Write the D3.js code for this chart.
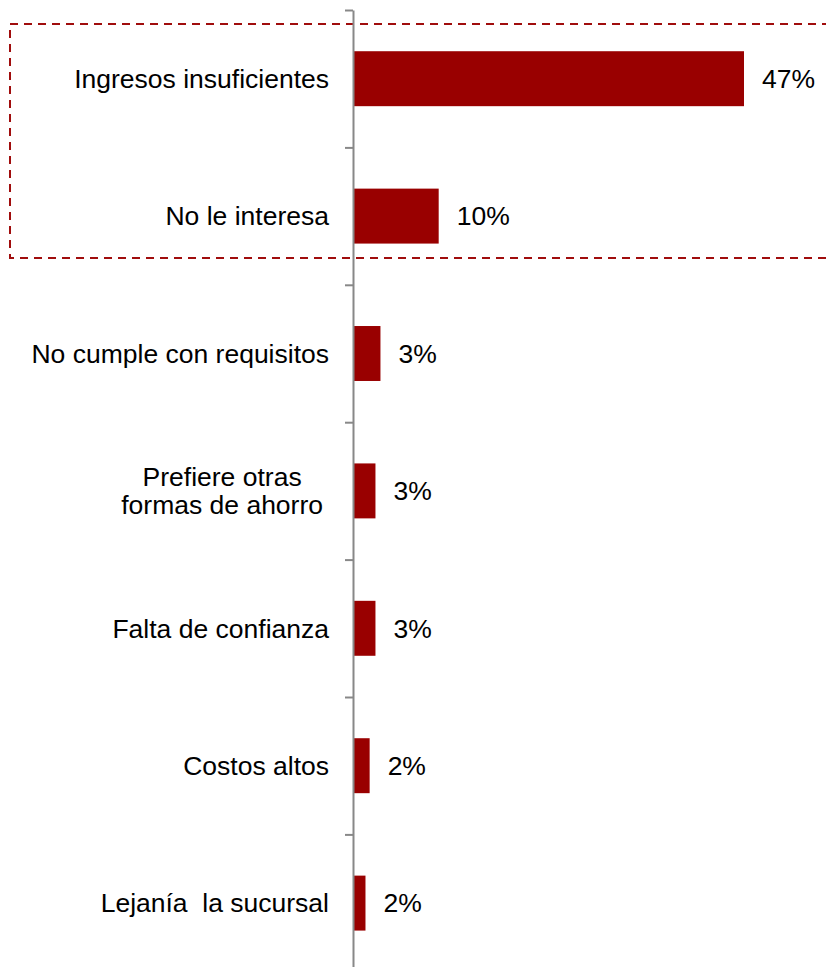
<!DOCTYPE html>
<html>
<head>
<meta charset="utf-8">
<script src="https://cdn.jsdelivr.net/npm/d3@7"></script>
<style>
  html, body { margin: 0; padding: 0; background: #ffffff; }
  svg text { font-family: "Liberation Sans", Arial, sans-serif; fill: #000; white-space: pre; }
</style>
</head>
<body>
<svg id="chart" width="826" height="967"></svg>
<script>
// Reasons for not having a savings account (% of respondents)
const categories = [
  ["Ingresos insuficientes"],
  ["No le interesa"],
  ["No cumple con requisitos"],
  ["Prefiere otras", "formas de ahorro"],
  ["Falta de confianza"],
  ["Costos altos"],
  ["Lejanía  la sucursal"]
];
const values = [47, 10.3, 3.3, 2.7, 2.7, 2.0, 1.5];

const svg = d3.select("#chart");
const fontSize = 26.5;
const barColor = "#990000";

const axisX = 353;
const plotTop = 10, step = 137.4;
const n = categories.length;

const y = d3.scaleBand()
  .domain(d3.range(n))
  .range([plotTop, plotTop + n * step])
  .paddingInner(0.6)
  .paddingOuter(0.3);

const x = d3.scaleLinear().domain([0, 47]).range([axisX, 744]);

// highlight frame around the leading reasons
const frameTop = 24, frameBottom = 258;
svg.append("rect")
  .attr("x", 10)
  .attr("y", frameTop)
  .attr("width", 830)
  .attr("height", frameBottom - frameTop)
  .attr("fill", "none")
  .attr("stroke", "#a00d0d")
  .attr("stroke-width", 2)
  .attr("stroke-dasharray", "8,6");

// bars
svg.append("g").selectAll("rect")
  .data(values)
  .join("rect")
  .attr("x", x(0))
  .attr("y", (d, i) => y(i))
  .attr("width", d => x(d) - x(0))
  .attr("height", y.bandwidth())
  .attr("fill", barColor);

// value labels
svg.append("g").selectAll("text")
  .data(values)
  .join("text")
  .attr("x", d => x(d) + 18)
  .attr("y", (d, i) => y(i) + y.bandwidth() / 2)
  .attr("dy", "0.35em")
  .attr("font-size", fontSize)
  .text(d => d3.format(".0f")(d) + "%");

// category axis: line with ticks at band boundaries
const boundary = d3.scaleLinear().domain([0, n]).range([plotTop, plotTop + n * step]);
const axisG = svg.append("g")
  .attr("transform", `translate(${axisX},0)`)
  .call(d3.axisLeft(boundary).tickValues(d3.range(n + 1)).tickSize(8).tickSizeOuter(0).tickFormat(""));
axisG.select(".domain").attr("stroke", "#888").attr("stroke-width", 2);
axisG.selectAll(".tick line").attr("stroke", "#888").attr("stroke-width", 2);

// category labels (right aligned block, wrapped lines centred)
const labelRight = 329;
const lineH = 28;
const catG = svg.append("g");
categories.forEach((lines, i) => {
  const cy = y(i) + y.bandwidth() / 2;
  const t = catG.append("text")
    .attr("font-size", fontSize)
    .attr("text-anchor", lines.length > 1 ? "middle" : "end");
  lines.forEach((ln, k) => {
    t.append("tspan")
      .attr("y", cy + (k - (lines.length - 1) / 2) * lineH)
      .attr("dy", "0.35em")
      .text(ln);
  });
  if (lines.length > 1) {
    const w = d3.max(t.selectAll("tspan").nodes(), nd => nd.getComputedTextLength());
    t.selectAll("tspan").attr("x", labelRight - 6 - w / 2);
  } else {
    t.selectAll("tspan").attr("x", labelRight);
  }
});
</script>
</body>
</html>
